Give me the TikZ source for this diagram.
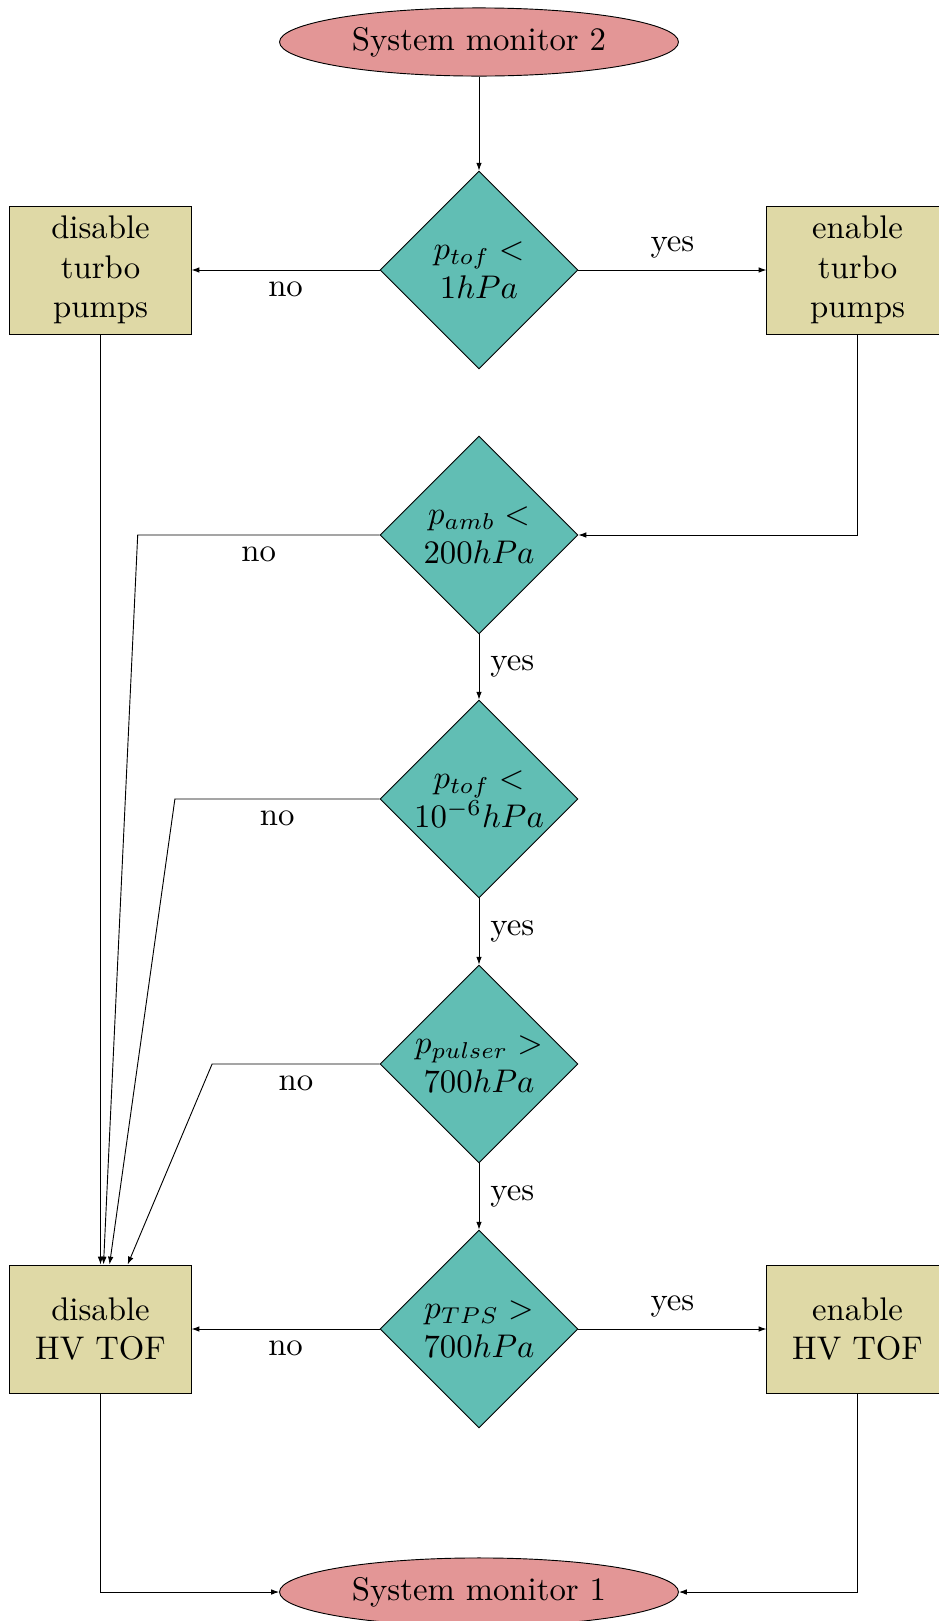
\documentclass[tikz,border=0pt]{standalone}
\usetikzlibrary{shapes.geometric,arrows.meta}
\definecolor{termfill}{RGB}{227,150,150}
\definecolor{decfill}{RGB}{97,190,180}
\definecolor{procfill}{RGB}{223,217,166}
\begin{document}
\begin{tikzpicture}[x=0.3053pt,y=-0.3053pt,line width=0.28pt,
  term/.style={ellipse,draw,fill=termfill,minimum width=121.8pt,minimum height=20.8pt,inner sep=0pt},
  decision/.style={diamond,draw,fill=decfill,minimum width=60.4pt,minimum height=60.4pt,inner sep=0pt,align=center},
  action/.style={rectangle,draw,fill=procfill,minimum width=55.3pt,minimum height=39.1pt,inner sep=0pt,align=center},
  arr/.style={-{Latex[length=2.4pt,width=1.7pt]}}]
\useasboundingbox (0,0) rectangle (939,1621);
\clip (0,0) rectangle (939,1621);

% nodes
\node[term] (start) at (479,42) {System monitor 2};
\node[decision] (d1) at (479,270) {$p_{tof} <$\\$1hPa$};
\node[decision] (d2) at (479,535) {$p_{amb} <$\\$200hPa$};
\node[decision] (d3) at (479,799) {$p_{tof} <$\\$10^{-6}hPa$};
\node[decision] (d4) at (479,1064) {$p_{pulser} >$\\$700hPa$};
\node[decision] (d5) at (479,1329) {$p_{TPS} >$\\$700hPa$};
\node[action] (dtp) at (100.5,270) {disable\\turbo\\pumps};
\node[action] (etp) at (857.5,270) {enable\\turbo\\pumps};
\node[action] (dhv) at (100.5,1329) {disable\\HV TOF};
\node[action] (ehv) at (857.5,1329) {enable\\HV TOF};
\node[term] (stop) at (479,1592) {System monitor 1};

% bend points of the "no" branches
\coordinate (c2) at (137.7,535);
\coordinate (c3) at (174.9,799);
\coordinate (c4) at (212.1,1064);

% connectors
\draw[arr] (start) -- (d1);
\draw[arr] (d1) -- node[below]{no} (dtp);
\draw[arr] (d1) -- node[above]{yes} (etp);
\draw[arr] (etp) |- (d2);
\draw[arr] (dtp) -- (dhv);
\draw[arr] (d2) -- node[below]{no} (c2) -- (dhv);
\draw[arr] (d3) -- node[below]{no} (c3) -- (dhv);
\draw[arr] (d4) -- node[below]{no} (c4) -- (dhv);
\draw[arr] (d2) -- node[right]{yes} (d3);
\draw[arr] (d3) -- node[right]{yes} (d4);
\draw[arr] (d4) -- node[right]{yes} (d5);
\draw[arr] (d5) -- node[below]{no} (dhv);
\draw[arr] (d5) -- node[above]{yes} (ehv);
\draw[arr] (dhv) |- (stop);
\draw[arr] (ehv) |- (stop);
\end{tikzpicture}
\end{document}
